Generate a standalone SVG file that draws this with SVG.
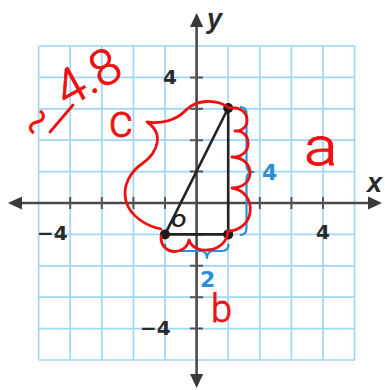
<svg xmlns="http://www.w3.org/2000/svg" width="385" height="390" viewBox="0 0 385 390">
<defs>
<style>
.grid{stroke:#9fd8f2;stroke-width:1.7;fill:none}
.axis{stroke:#4a4a4a;stroke-width:2.6;fill:none}
.tick{stroke:#555;stroke-width:2;fill:none}
.lbl{font-family:"DejaVu Sans",sans-serif;font-weight:bold;font-size:20px;fill:#2a2a2a}
.var{font-family:"Liberation Sans",Arial,sans-serif;font-weight:bold;font-style:italic;font-size:27px;fill:#2a2a2a}
.seg{stroke:#222;stroke-width:2.6;fill:none}
.brace{stroke:#2a8fd6;stroke-width:2.2;fill:none;stroke-linejoin:round}
.blue{font-family:"DejaVu Sans",sans-serif;font-weight:bold;font-size:22px;fill:#2a8fd6}
.pen{stroke:#ee1111;stroke-width:2.8;fill:none;stroke-linecap:round;stroke-linejoin:round}
.hand{font-family:Roboto,"DejaVu Sans",sans-serif;font-weight:300;fill:#ee1111;stroke:#ee1111;stroke-width:0.8}
</style>
</defs>
<rect width="385" height="390" fill="#fff"/>
<g id="grid" class="grid">
<path d="M38.6,46V360M70.2,46V360M101.8,46V360M133.4,46V360M165,46V360M196.6,46V360M228.2,46V360M259.8,46V360M291.4,46V360M323,46V360M354.6,46V360"/>
<path d="M38.6,46H354.6M38.6,77.4H354.6M38.6,108.8H354.6M38.6,140.2H354.6M38.6,171.6H354.6M38.6,203H354.6M38.6,234.4H354.6M38.6,265.8H354.6M38.6,297.2H354.6M38.6,328.6H354.6M38.6,360H354.6"/>
</g>
<g id="axes">
<line class="axis" x1="20" y1="203" x2="370" y2="203"/>
<path d="M8,203 L22,196.5 L22,209.5 Z" fill="#3a3a3a"/>
<path d="M382,203 L368,196.5 L368,209.5 Z" fill="#3a3a3a"/>
<line class="axis" x1="196.6" y1="26" x2="196.6" y2="376"/>
<path d="M196.6,13 L190,27 L203.2,27 Z" fill="#3a3a3a"/>
<path d="M196.6,388 L190,374 L203.2,374 Z" fill="#3a3a3a"/>
<path class="tick" d="M70.2,197V209M101.8,197V209M133.4,197V209M165,197V209M228.2,197V209M259.8,197V209M291.4,197V209M323,197V209"/>
<path class="tick" d="M190,77.4H203M190,108.8H203M190,140.2H203M190,171.6H203M190,234.4H203M190,265.8H203M190,297.2H203M190,328.6H203"/>
</g>
<g id="labels">
<text class="var" x="207" y="27.5">y</text>
<text class="var" x="367" y="192">x</text>
<text class="lbl" x="163" y="84">4</text>
<text class="lbl" x="37" y="240">−4</text>
<text class="lbl" x="316" y="239">4</text>
<text class="lbl" x="140" y="335">−4</text>
<text x="171" y="227" style="font-family:'Liberation Sans',Arial,sans-serif;font-style:italic;font-weight:bold;font-size:19px;fill:#222">O</text>
</g>
<g id="braces">
<path class="brace" d="M240,107 Q246.5,107 246.5,114 L246.5,165 Q246.5,172 253.5,172 Q246.5,172 246.5,179 L246.5,228 Q246.5,235 240,235"/>
<path class="brace" d="M165,244 Q165,251 172,251 L200,251 Q207,251 207,258 Q207,251 214,251 L222,251 Q228.5,251 228.5,244"/>
<text class="blue" x="262" y="180">4</text>
<text class="blue" x="200" y="287">2</text>
</g>
<g id="triangle">
<path class="seg" d="M165,234.4 L228.2,108 L228.2,234.4 Z"/>
<circle cx="165" cy="234.4" r="5" fill="#1a1a1a"/>
<circle cx="228.2" cy="234.4" r="5" fill="#1a1a1a"/>
<circle cx="228.2" cy="108" r="5" fill="#1a1a1a"/>
</g>
<g id="annotations">
<path class="pen" d="M161,229 C146,226 130,216 126,201 C122,186 130,172 143,163 C157,153 165,134 147,122 C160,124 176,121 186,110 C196,100 216,98 229,108 C252,105 252,132 235,131 C253,130 253,158 232,157 C256,158 256,188 232,188 C258,192 256,230 228,231 C227,253 194,256 189,240 C186,256 160,256 161,236"/>
<path class="pen" d="M50,132 L73,105"/>
<text class="hand" font-size="44" text-anchor="middle" transform="translate(37,122) rotate(-55)" y="13">~</text>
<text class="hand" font-size="50" transform="translate(70,86) rotate(-29)" x="-14" y="18">4.8</text>
<text class="hand" font-size="46" x="109" y="137">c</text>
<text class="hand" font-size="52" transform="translate(304,165) scale(1.2,1)">a</text>
<text class="hand" font-size="38" x="211" y="322">b</text>
</g>
</svg>
